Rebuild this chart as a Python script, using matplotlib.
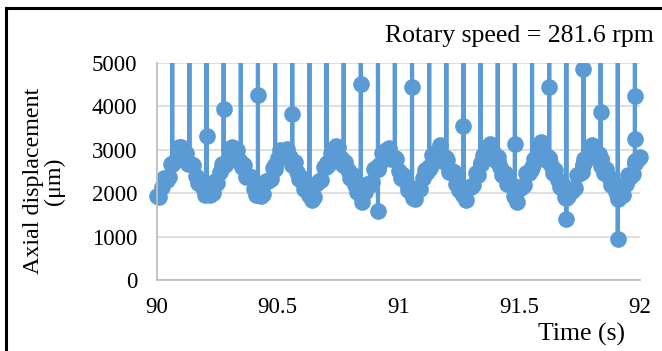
import numpy as np
import matplotlib
matplotlib.use("Agg")
import matplotlib.pyplot as plt
from matplotlib.lines import Line2D
from matplotlib.patches import Rectangle

plt.rcParams['font.family'] = ['Liberation Serif', 'DejaVu Serif']

# axial displacement sampled every 0.01 s from 90 s to 92 s (um)
base_t = np.linspace(90.0, 92.0, 201)
base_y = [1940, 1910, 2150, 2350, 2310, 2380, 2680, 2730, 2770, 3060,
          3060, 2890, 2930, 2670, 2680, 2660, 2390, 2240, 2310, 2130,
          1950, 2010, 1950, 2010, 2270, 2240, 2480, 2680, 2640, 2710,
          3010, 3060, 2930, 3000, 2770, 2600, 2640, 2380, 2400, 2370,
          2100, 1950, 2020, 1940, 1980, 2270, 2270, 2330, 2590, 2560,
          2800, 3000, 2960, 2930, 3010, 2830, 2640, 2710, 2480, 2320,
          2350, 2090, 2110, 2080, 1850, 1920, 2220, 2270, 2310, 2600,
          2600, 2660, 2920, 2890, 3090, 3070, 2800, 2640, 2720, 2540,
          2360, 2420, 2190, 2030, 2060, 1800, 2020, 2220, 2180, 2250,
          2550, 2600, 2640, 2930, 2930, 2990, 3050, 2790, 2800, 2780,
          2510, 2350, 2430, 2250, 2070, 2130, 1900, 1870, 2130, 2100,
          2340, 2540, 2500, 2570, 2870, 2920, 2960, 3120, 2890, 2720,
          2760, 2500, 2510, 2490, 2220, 2070, 2140, 1960, 1850, 2140,
          2140, 2200, 2460, 2430, 2670, 2870, 2830, 2900, 3130, 2950,
          2760, 2830, 2600, 2430, 2470, 2210, 2230, 2200, 1930, 1790,
          2090, 2140, 2180, 2470, 2470, 2530, 2790, 2760, 3000, 3190,
          2920, 2760, 2840, 2660, 2470, 2540, 2310, 2150, 2180, 1920,
          1940, 2080, 2040, 2110, 2410, 2460, 2500, 2790, 2790, 2850,
          3110, 2910, 2920, 2900, 2630, 2470, 2550, 2370, 2180, 2250,
          2020, 1860, 2000, 1970, 2210, 2410, 2370, 2440, 2740, 2790,
          2830]

# sensor spikes, three per revolution
spike_t = [90.063, 90.134, 90.205, 90.276, 90.347, 90.418, 90.489, 90.560,
           90.631, 90.702, 90.773, 90.844, 90.915, 90.985, 91.056, 91.127,
           91.198, 91.269, 91.340, 91.411, 91.482, 91.553, 91.624, 91.695,
           91.766, 91.837, 91.908, 91.979]
spike_top = [6000, 6000, 6000, 6000, 6000, 6000, 6000, 6000,
             6000, 6000, 6000, 6000, 6000, 6000, 6000, 6000,
             6000, 6000, 6000, 6000, 6000, 6000, 6000, 6000,
             4870, 6000, 6000, 6000]
spike_foot = [2680, 2700, 2000, 2650, 2700, 1950, 2650, 2750,
              1950, 2700, 2730, 1950, 2560, 2800, 1980, 2600,
              2800, 1950, 2700, 2720, 1920, 2600, 2800, 1900,
              2650, 2780, 1950, 2700]

# intermediate samples caught on a spike (index into spike_t)
extra_k = [2, 3, 5, 7, 11, 12, 14, 17, 20, 22, 23, 25, 26, 27, 27]
extra_y = [3310, 3940, 4270, 3830, 4510, 1590, 4440, 3550,
           3130, 4440, 1400, 3860, 940, 3250, 4230]

# build the sample sequence: each spike is foot -> (high samples) -> top
# -> (low samples) -> foot at one instant
pts_t, pts_y, pts_s = list(base_t), list(base_y), [-1] * len(base_t)
for k, (tk, top, foot) in enumerate(zip(spike_t, spike_top, spike_foot)):
    ex = [v for kk, v in zip(extra_k, extra_y) if kk == k]
    hi = sorted(v for v in ex if v > foot)
    lo = sorted((v for v in ex if v < foot), reverse=True)
    seq = [foot] + hi + [top] + lo + [foot]
    for n, v in enumerate(seq):
        pts_t.append(tk)
        pts_y.append(v)
        pts_s.append(n)
pts_t = np.array(pts_t)
pts_y = np.array(pts_y)
order = np.lexsort((np.array(pts_s), pts_t))
t = pts_t[order]
y = pts_y[order]

fig = plt.figure(figsize=(6.62, 3.51), dpi=100)
ax = fig.add_axes([157/662, 1-280/351, (640-157)/662, (280-63)/351])

blue = '#5B9BD5'
line, = ax.plot(t, y, color=blue, lw=3.0, marker='o', ms=12,
                markeredgewidth=0, solid_joinstyle='round')
clip = Rectangle((89.9, -600), 2.2, 5600, transform=ax.transData)
line.set_clip_path(clip)

ax.set_xlim(90, 92)
ax.set_ylim(0, 5000)
ax.set_xticks([90, 90.5, 91, 91.5, 92])
ax.set_xticklabels(['90', '90.5', '91', '91.5', '92'])
ax.set_yticks([0, 1000, 2000, 3000, 4000, 5000])
ax.grid(axis='y', color='#D9D9D9', lw=1.2)
ax.set_axisbelow(True)
for s in ['top', 'right']:
    ax.spines[s].set_visible(False)
for s in ['left', 'bottom']:
    ax.spines[s].set_color('#BFBFBF')
    ax.spines[s].set_linewidth(1.3)
ax.tick_params(axis='y', length=0, pad=14, labelsize=16.5)
ax.tick_params(axis='x', length=0, pad=12, labelsize=16.5)

fig.text(1-8/662, 1-42/351, 'Rotary speed = 281.6 rpm', ha='right',
         va='baseline', fontsize=18.5)
fig.text(44/662, 1-181/351, 'Axial displacement\n(μm)', rotation=90,
         ha='center', va='center', multialignment='center',
         fontsize=17.3, linespacing=1.05)
fig.text(581/662, 1-341/351, 'Time (s)', ha='center', va='baseline',
         fontsize=18.5)

# outer frame
fig.add_artist(Line2D([5.5/662, 5.5/662], [0, 1-7.5/351], color='black',
                      lw=2.2, transform=fig.transFigure))
fig.add_artist(Line2D([5.5/662, 1], [1-7.5/351, 1-7.5/351], color='black',
                      lw=2.2, transform=fig.transFigure))

fig.savefig('out.png', dpi=100)
